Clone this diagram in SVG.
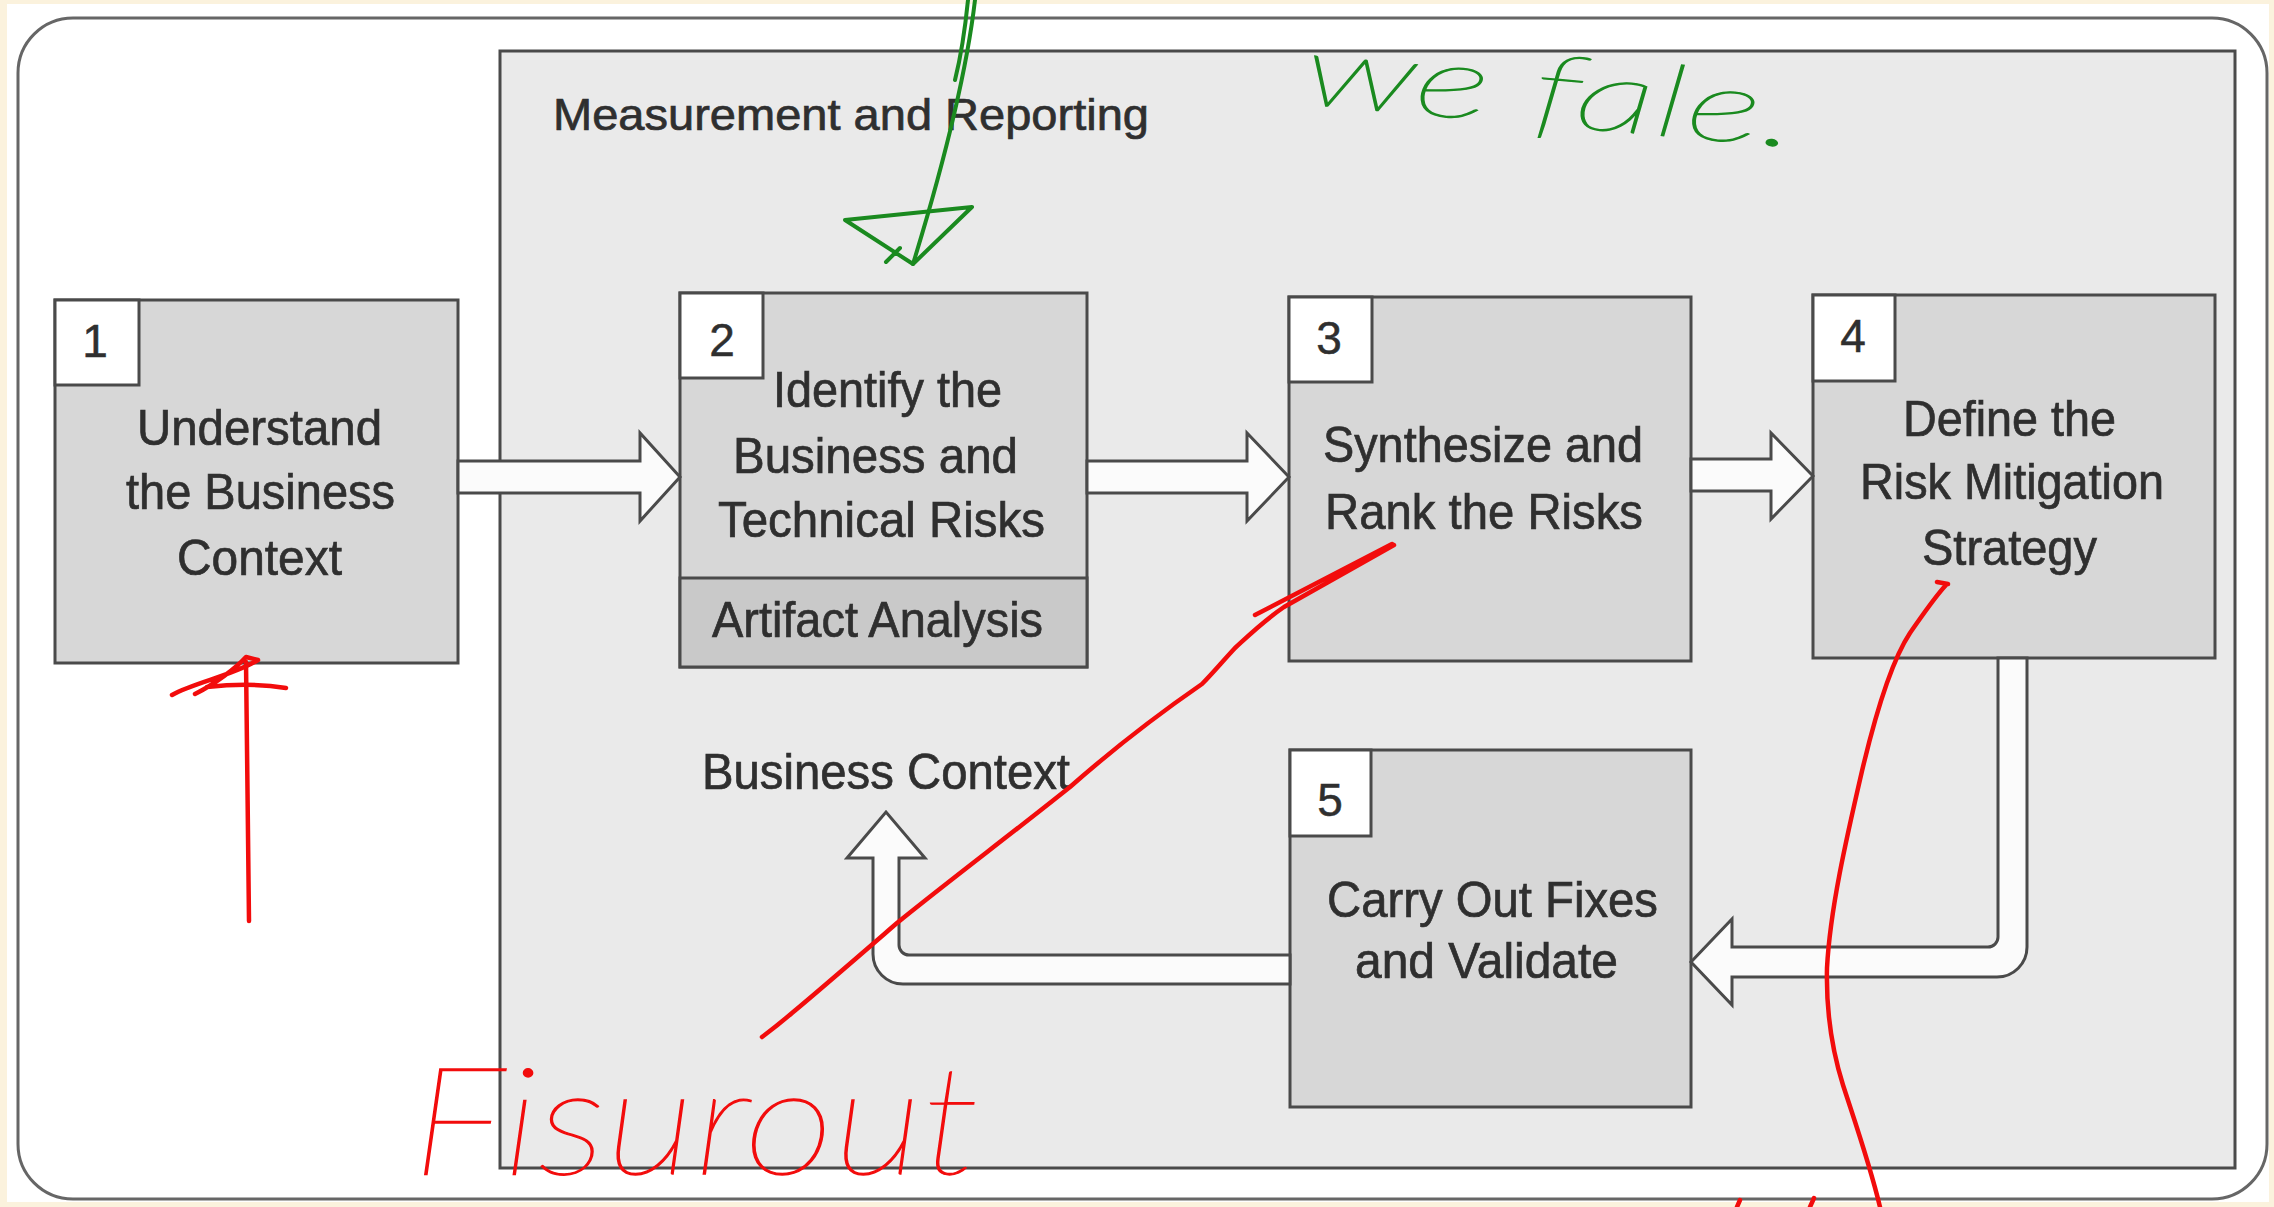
<svg xmlns="http://www.w3.org/2000/svg" width="2274" height="1207" viewBox="0 0 2274 1207">
  <style>
    .box { fill: #d7d7d7; stroke: #4a4a4a; stroke-width: 3; }
    .art { fill: #c9c9c9; stroke: #4a4a4a; stroke-width: 3; }
    .num { fill: #ffffff; stroke: #4a4a4a; stroke-width: 3; }
    .t { font-family: "Liberation Sans", Arial, Helvetica, sans-serif; font-size: 50px; fill: #2f2f2f; stroke: #2f2f2f; stroke-width: 0.7; }
    .d { font-family: "Liberation Sans", Arial, Helvetica, sans-serif; font-size: 46px; fill: #2f2f2f; stroke: #2f2f2f; stroke-width: 0.5; text-anchor: middle; }
    .pipe { fill: #fbfbfb; stroke: #4a4a4a; stroke-width: 3; stroke-linejoin: miter; }
    .red { fill: none; stroke: #f20c0c; stroke-width: 4.5; stroke-linecap: round; stroke-linejoin: round; }
    .green { fill: none; stroke: #1a8a1f; stroke-width: 4; stroke-linecap: round; stroke-linejoin: round; }
    .hand { font-family: "Lato", "Inter", "Open Sans", sans-serif; font-weight: 100; font-style: italic; stroke-width: 1.3; }
  </style>

  <rect x="0" y="0" width="2274" height="1207" fill="#fbf2dd"/>
  <rect x="7" y="4" width="2262" height="1198" fill="#ffffff"/>

  <g id="frame">
    <rect x="18" y="18" width="2249" height="1181" rx="55" ry="55" fill="#ffffff" stroke="#666666" stroke-width="3"/>
  </g>

  <g id="measurement-reporting">
    <rect x="500" y="51" width="1735" height="1117" fill="#eaeaea" stroke="#4a4a4a" stroke-width="3"/>
    <text class="t" x="553" y="130" style="font-size:45px" textLength="596" lengthAdjust="spacingAndGlyphs">Measurement and Reporting</text>
  </g>

  <g id="node-1">
    <rect class="box" x="55" y="300" width="403" height="363"/>
    <rect class="num" x="55" y="300" width="84" height="85"/>
    <text class="d" x="95" y="357">1</text>
    <text class="t" x="137" y="445" textLength="245" lengthAdjust="spacingAndGlyphs">Understand</text>
    <text class="t" x="126" y="509" textLength="269" lengthAdjust="spacingAndGlyphs">the Business</text>
    <text class="t" x="177" y="575" textLength="165" lengthAdjust="spacingAndGlyphs">Context</text>
  </g>

  <g id="node-2">
    <rect class="box" x="680" y="293" width="407" height="374"/>
    <rect class="art" x="680" y="578" width="407" height="89"/>
    <rect class="num" x="680" y="293" width="83" height="85"/>
    <text class="d" x="722" y="356">2</text>
    <text class="t" x="773" y="407" textLength="229" lengthAdjust="spacingAndGlyphs">Identify the</text>
    <text class="t" x="733" y="473" textLength="285" lengthAdjust="spacingAndGlyphs">Business and</text>
    <text class="t" x="718" y="537" textLength="327" lengthAdjust="spacingAndGlyphs">Technical Risks</text>
    <text class="t" x="712" y="637" textLength="331" lengthAdjust="spacingAndGlyphs">Artifact Analysis</text>
  </g>

  <g id="node-3">
    <rect class="box" x="1289" y="297" width="402" height="364"/>
    <rect class="num" x="1289" y="297" width="83" height="85"/>
    <text class="d" x="1329" y="354">3</text>
    <text class="t" x="1323" y="462" textLength="320" lengthAdjust="spacingAndGlyphs">Synthesize and</text>
    <text class="t" x="1325" y="529" textLength="318" lengthAdjust="spacingAndGlyphs">Rank the Risks</text>
  </g>

  <g id="node-4">
    <rect class="box" x="1813" y="295" width="402" height="363"/>
    <rect class="num" x="1813" y="295" width="82" height="86"/>
    <text class="d" x="1853" y="352">4</text>
    <text class="t" x="1903" y="436" textLength="213" lengthAdjust="spacingAndGlyphs">Define the</text>
    <text class="t" x="1860" y="499" textLength="304" lengthAdjust="spacingAndGlyphs">Risk Mitigation</text>
    <text class="t" x="1922" y="565" textLength="175" lengthAdjust="spacingAndGlyphs">Strategy</text>
  </g>

  <g id="node-5">
    <rect class="box" x="1290" y="750" width="401" height="357"/>
    <rect class="num" x="1290" y="750" width="81" height="86"/>
    <text class="d" x="1330" y="816">5</text>
    <text class="t" x="1327" y="917" textLength="331" lengthAdjust="spacingAndGlyphs">Carry Out Fixes</text>
    <text class="t" x="1355" y="978" textLength="263" lengthAdjust="spacingAndGlyphs">and Validate</text>
  </g>

  <g id="label-business-context">
    <text class="t" x="702" y="789" textLength="368" lengthAdjust="spacingAndGlyphs">Business Context</text>
  </g>

  <g id="connectors">
    <path id="c-1-2" class="pipe" d="M458,461 H640 V433 L680,477 L640,521 V493 H458 Z"/>
    <path id="c-2-3" class="pipe" d="M1087,461 H1247 V433 L1289,477 L1247,521 V493 H1087 Z"/>
    <path id="c-3-4" class="pipe" d="M1691,459 H1771 V433 L1813,476 L1771,519 V491 H1691 Z"/>
    <path id="c-4-5" class="pipe" d="M1998,658 V937 A10,10 0 0 1 1988,947 H1732 V919 L1691,962 L1732,1005 V977 H1997 A30,30 0 0 0 2027,947 V658 Z"/>
    <path id="c-5-context" class="pipe" d="M1290,955 H909 A10,10 0 0 1 899,945 V858 H925 L886,812 L847,858 H873 V954 A30,30 0 0 0 903,984 H1290 Z"/>
  </g>

  <g id="annotations">
    <path class="red" d="M249,921 C248,840 247,740 246,662"/>
    <path class="red" d="M172,695 C195,682 232,676 258,660 L246,657 C236,668 215,684 195,694 M207,687 C235,684 262,684 286,688"/>
    <path class="red" d="M1392,544 L1255,615 M1394,545 L1284,607 C1262,622 1246,638 1235,648 C1222,662 1212,674 1202,684 C1160,713 1112,750 1070,787 C1010,835 950,880 897,923 C860,955 822,988 792,1013 C778,1025 770,1031 762,1037"/>
    <path class="red" d="M1937,582 L1948,584 M1946,585 C1934,598 1924,613 1910,633 C1892,660 1876,712 1862,771 C1846,840 1830,910 1827,968 C1826,1010 1832,1050 1843,1085 C1856,1125 1870,1165 1880,1207"/>
    <path class="red" d="M1737,1207 L1740,1200 M1810,1207 L1814,1198"/>
    <text class="hand" x="412" y="1174" font-size="150" fill="#f20c0c" stroke="#f20c0c" textLength="568" lengthAdjust="spacingAndGlyphs">Fisurout</text>
    <path class="green" d="M975,0 C968,60 948,150 913,264 M968,0 C964,40 960,60 955,80"/>
    <path class="green" d="M845,220 L913,264 L972,207 Z M886,262 L900,248"/>
    <text class="hand" x="1302" y="104" font-size="100" fill="#1a8a1f" stroke="#1a8a1f" textLength="495" lengthAdjust="spacingAndGlyphs" transform="rotate(5 1302 104)">we fale.</text>
  </g>
</svg>
